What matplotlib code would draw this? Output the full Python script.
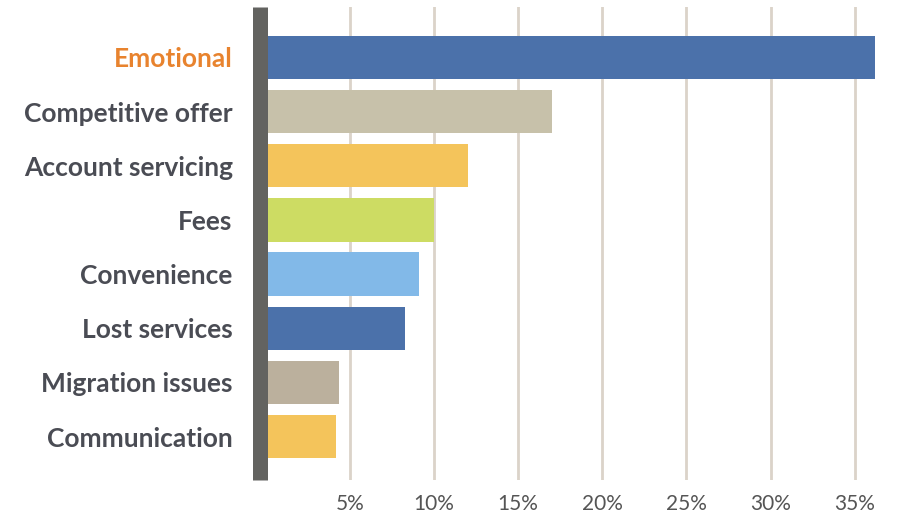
import matplotlib.pyplot as plt

# Reasons for switching (share of respondents, %)
categories = ["Emotional", "Competitive offer", "Account servicing", "Fees",
              "Convenience", "Lost services", "Migration issues", "Communication"]
values = [36.2, 17.0, 12.0, 10.0, 9.1, 8.3, 4.35, 4.2]
bar_colors = ["#4b71aa", "#c7c1aa", "#f4c45b", "#cddc63",
              "#82b9e8", "#4b71aa", "#bbb09d", "#f4c45b"]
xticks = [5, 10, 15, 20, 25, 30, 35]
xtick_labels = ["5%", "10%", "15%", "20%", "25%", "30%", "35%"]

fig = plt.figure(figsize=(9, 5.16), dpi=100)
ax = fig.add_axes([0.2894, 0.0698, 0.6973, 0.9166])

ypos = list(range(len(categories)))
ax.barh(ypos, values, height=0.8, color=bar_colors, zorder=2)

ax.set_xlim(-0.31, 36.98)
ax.set_ylim(7.8, -0.93)

ax.set_xticks(xticks)
ax.set_xticklabels(xtick_labels, fontsize=15, color="#555555", family="Lato")
ax.set_yticks(ypos)
ax.set_yticklabels(categories, fontsize=19, fontweight="bold",
                   color="#4a4c54", family="Lato")
ax.get_yticklabels()[0].set_color("#e8832e")
ax.tick_params(axis="both", length=0)
ax.tick_params(axis="y", pad=20)
ax.tick_params(axis="x", pad=10)

ax.grid(axis="x", color="#dbd3c9", linewidth=2, zorder=1)
for s in ["top", "right", "bottom"]:
    ax.spines[s].set_visible(False)
ax.spines["left"].set_color("#636360")
ax.spines["left"].set_linewidth(10.8)
ax.spines["left"].set_capstyle("butt")
ax.spines["left"].set_zorder(3)

fig.savefig("out.png", dpi=100)
